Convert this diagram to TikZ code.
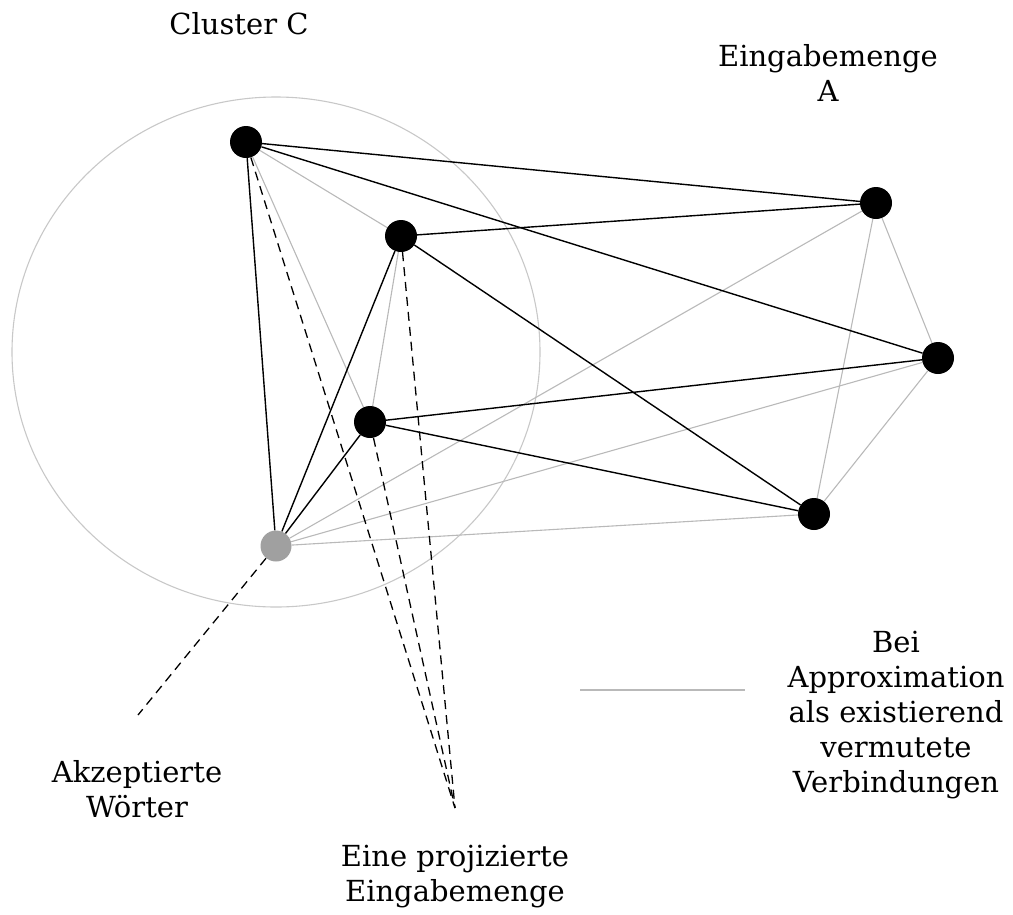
\documentclass[tikz,border=0pt]{standalone}
\usepackage{fontspec}
\setmainfont{DejaVu Serif}
\usetikzlibrary{backgrounds}
\definecolor{lgray}{RGB}{185,185,185}
\definecolor{cgray}{RGB}{200,200,200}
\definecolor{dgray}{RGB}{160,160,160}
\begin{document}
\begin{tikzpicture}[x=1pt,y=-1pt,
  dot/.style={circle,fill=black,minimum size=32pt,inner sep=0pt},
  gdot/.style={circle,fill=dgray,minimum size=31pt,inner sep=0pt},
  strong/.style={black,line width=1.4pt},
  weak/.style={lgray,line width=1.1pt},
  proj/.style={black,line width=1.3pt,dash pattern=on 9pt off 6pt},
  circ/.style={cgray,line width=1.1pt},
  lbl/.style={font=\fontsize{29}{35}\selectfont,align=center,inner sep=0pt}]
\useasboundingbox (0,0) rectangle (1013,914);

\node[dot] (n1) at (246,142) {};
\node[dot] (n2) at (401,236) {};
\node[dot] (n3) at (370,422) {};
\node[gdot] (g) at (276,546) {};
\node[dot] (a1) at (876,203) {};
\node[dot] (a2) at (938,358) {};
\node[dot] (a3) at (814,514) {};
\coordinate (p) at (455,808);
\coordinate (q) at (138,715);
\coordinate (l1) at (580,690);
\coordinate (l2) at (745,690);

\begin{scope}[on background layer]
\draw[circ] (276,352) ellipse [x radius=264pt, y radius=255pt];
% gray (approximated) connections
\draw[weak] (n1) -- (n2);
\draw[weak] (n1) -- (n3);
\draw[weak] (n2) -- (n3);
\draw[weak] (a1) -- (a2);
\draw[weak] (a1) -- (a3);
\draw[weak] (a2) -- (a3);
\draw[weak] (g) -- (a1);
\draw[weak] (g) -- (a2);
\draw[weak] (g) -- (a3);
\draw[weak] (l1) -- (l2);
% black connections
\draw[strong] (n1) -- (a1);
\draw[strong] (n1) -- (a2);
\draw[strong] (n1) -- (g);
\draw[strong] (n2) -- (a1);
\draw[strong] (n2) -- (a3);
\draw[strong] (n2) -- (g);
\draw[strong] (n3) -- (a2);
\draw[strong] (n3) -- (a3);
\draw[strong] (n3) -- (g);
% projections
\draw[proj] (n1) -- (p);
\draw[proj] (n2) -- (p);
\draw[proj] (n3) -- (p);
\draw[proj] (g) -- (q);
\end{scope}

\node[lbl] (tc) at (239,24) {Cluster C};
\node[lbl] (ta) at (828,73) {Eingabemenge\\A};
\node[lbl] (tl) at (896,715) {Bei\\Approximation\\als existierend\\vermutete\\Verbindungen};
\node[lbl] (tw) at (137,789) {Akzeptierte\\Wörter};
\node[lbl] (tp) at (455,877) {Eine projizierte\\Eingabemenge};
\end{tikzpicture}
\end{document}
